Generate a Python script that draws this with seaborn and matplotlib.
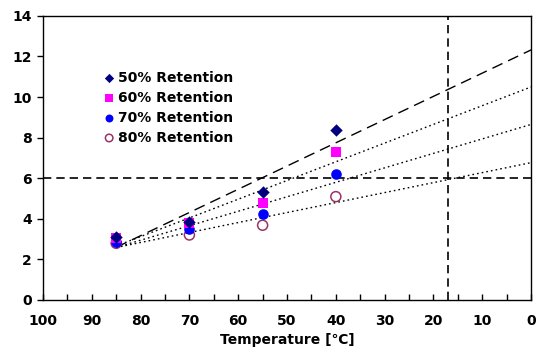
import numpy as np
import pandas as pd
import matplotlib
matplotlib.use("Agg")
import matplotlib.pyplot as plt
import seaborn as sns

# === Data ===
temps = [85, 70, 55, 40]
ret50 = [3.12, 3.86, 5.34, 8.35]
ret60 = [3.04, 3.78, 4.80, 7.31]
ret70 = [2.87, 3.48, 4.22, 6.19]
ret80 = [2.79, 3.20, 3.68, 5.09]
labels = ["50% Retention", "60% Retention", "70% Retention", "80% Retention"]
limit_y = 6
limit_x = 17

series = [ret50, ret60, ret70, ret80]
df = pd.DataFrame({
    "Temperature": temps * 4,
    "Value": ret50 + ret60 + ret70 + ret80,
    "Series": [lab for lab in labels for _ in temps],
})

# === Plot Setup ===
sns.set_theme(style="white")
plt.rcParams["font.family"] = ["DejaVu Sans"]
plt.rcParams["text.color"] = "black"
plt.rcParams["xtick.color"] = "black"
plt.rcParams["ytick.color"] = "black"
plt.rcParams["axes.labelcolor"] = "black"
fig = plt.figure(figsize=(5.37, 3.52), dpi=100)
ax = fig.add_axes([0.080, 0.148, 0.909, 0.807])

styles = {
    "50% Retention": dict(marker="D", color="#000080", fill=True, size=40, ls=(0, (8, 4.5))),
    "60% Retention": dict(marker="s", color="#FF00FF", fill=True, size=46, ls=(0, (1.2, 2.2))),
    "70% Retention": dict(marker="o", color="#0000FF", fill=True, size=58, ls=(0, (1.2, 2.2))),
    "80% Retention": dict(marker="o", color="#993366", fill=False, size=52, ls=(0, (1.2, 2.2))),
}

# === Linear trend lines from 85 down to 0 ===
xs = np.array([85, 0])
for lab, vals in zip(labels, series):
    k, b = np.polyfit(temps, vals, 1)
    ax.plot(xs, k * xs + b, color="black", lw=1.0, ls=styles[lab]["ls"], zorder=2)

# === Scatter points ===
for lab in labels[::-1]:
    st = styles[lab]
    sub = df[df["Series"] == lab]
    sns.scatterplot(
        data=sub, x="Temperature", y="Value", ax=ax,
        marker=st["marker"], s=st["size"],
        color=st["color"] if st["fill"] else "none",
        edgecolor=st["color"], linewidth=0 if st["fill"] else 1.1,
        label=lab, zorder=3,
    )

# === Reference lines ===
ax.axhline(limit_y, color="black", lw=1.2, ls=(0, (5, 3)), zorder=1)
ax.axvline(limit_x, color="black", lw=1.2, ls=(0, (5, 3)), zorder=1)

# === Axes ===
ax.set_xlim(100, 0)
ax.set_ylim(0, 14)
ax.set_xticks(np.arange(100, -1, -10))
ax.set_xticks(np.arange(95, 0, -10), minor=True)
ax.set_yticks(np.arange(0, 15, 2))
ax.tick_params(axis="x", which="both", direction="in", length=4, width=1,
               bottom=True, labelsize=10, pad=10, color="black")
ax.tick_params(axis="y", direction="out", length=4, width=1, left=True,
               labelsize=10, pad=4, color="black")
for t in ax.get_xticklabels() + ax.get_yticklabels():
    t.set_fontweight("bold")
for sp in ax.spines.values():
    sp.set_color("black")
    sp.set_linewidth(1.0)
ax.set_xlabel("Temperature [℃]", fontsize=10, fontweight="bold", labelpad=4)
ax.set_ylabel("")

# === Legend ===
h, l = ax.get_legend_handles_labels()
order = [l.index(lab) for lab in labels]
ax.legend([h[i] for i in order], [l[i] for i in order], loc="upper left",
          bbox_to_anchor=(0.11, 0.825), frameon=False, handletextpad=0.15,
          labelspacing=0.42, borderaxespad=0, handlelength=1.0, markerscale=0.75,
          prop={"weight": "bold", "size": 10})

plt.savefig("out.png", dpi=100)
